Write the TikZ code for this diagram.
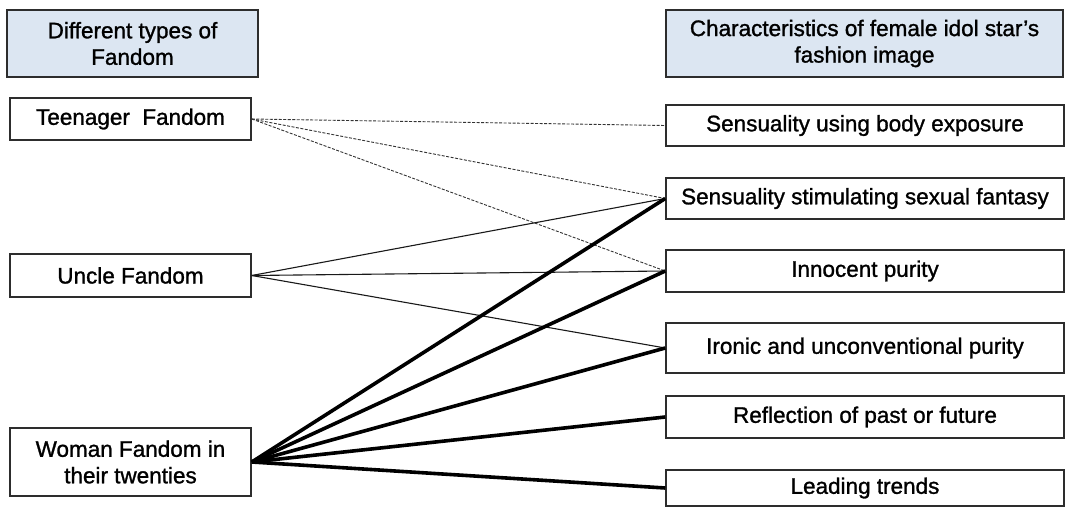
\documentclass[tikz,border=0pt]{standalone}
\usepackage{fontspec}
\setmainfont{Liberation Sans}[BoldFont=Liberation Sans,BoldFeatures={FakeBold=1.2}]
\definecolor{headfill}{RGB}{220,230,242}
\definecolor{boxline}{RGB}{45,45,45}
\begin{document}
\begin{tikzpicture}[x=1pt,y=-1pt,
  box/.style={draw=boxline,line width=1.5pt,rectangle,inner sep=0pt,align=center,
    font=\fontsize{22.5}{26.5}\selectfont\bfseries},
  head/.style={box,fill=headfill},
  weak/.style={line width=0.9pt,dashed,dash pattern=on 3pt off 1.5pt,draw=black!80},
  mid/.style={line width=1.1pt,draw=black!90},
  strong/.style={line width=3.6pt,draw=black}]
\useasboundingbox (0,0) rectangle (1066,508);
\node[head,minimum width=251pt,minimum height=67pt] (h1) at (132.5,43.5) {Different types of\\Fandom};
\node[head,minimum width=397pt,minimum height=67pt] (h2) at (864.5,43.5) {Characteristics of female idol star's\\fashion image};
\node[box,minimum width=241pt,minimum height=42pt] (teen) at (130.5,119) {Teenager~ Fandom};
\node[box,minimum width=241pt,minimum height=43pt] (uncle) at (130.5,275.5) {Uncle Fandom};
\node[box,minimum width=241pt,minimum height=68pt] (woman) at (130.5,462) {Woman Fandom in\\their twenties};
\node[box,minimum width=398pt,minimum height=41pt] (r1) at (865,125.5) {Sensuality using body exposure};
\node[box,minimum width=398pt,minimum height=41pt] (r2) at (865,198.5) {Sensuality stimulating sexual fantasy};
\node[box,minimum width=398pt,minimum height=42pt] (r3) at (865,271) {Innocent purity};
\node[box,minimum width=398pt,minimum height=50pt] (r4) at (865,348) {Ironic and unconventional purity};
\node[box,minimum width=398pt,minimum height=42pt] (r5) at (865,417) {Reflection of past or future};
\node[box,minimum width=398pt,minimum height=36pt] (r6) at (865,488) {Leading trends};
\draw[weak] (teen.east) -- (r1.west);
\draw[weak] (teen.east) -- (r2.west);
\draw[weak] (teen.east) -- (r3.west);
\draw[mid] (uncle.east) -- (r2.west);
\draw[mid] (uncle.east) -- (r3.west);
\draw[mid] (uncle.east) -- (r4.west);
\draw[strong] (woman.east) -- (r2.west);
\draw[strong] (woman.east) -- (r3.west);
\draw[strong] (woman.east) -- (r4.west);
\draw[strong] (woman.east) -- (r5.west);
\draw[strong] (woman.east) -- (r6.west);
\end{tikzpicture}
\end{document}
